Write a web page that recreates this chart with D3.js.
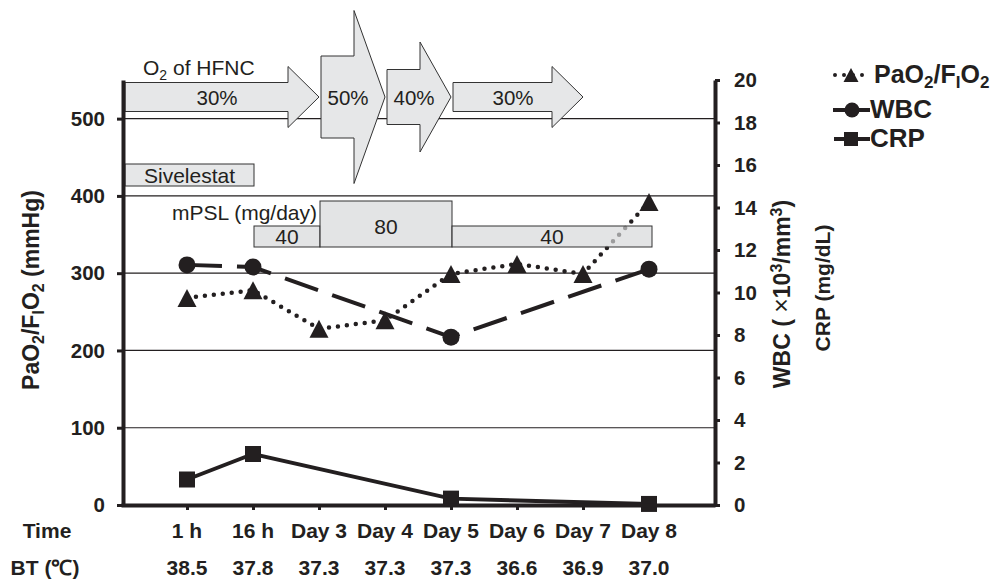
<!DOCTYPE html>
<html>
<head>
<meta charset="utf-8">
<script src="https://cdn.jsdelivr.net/npm/d3@7"></script>
<style>
  body { margin: 0; background: #fff; }
  svg { font-family: "Liberation Sans", Arial, sans-serif; }
</style>
</head>
<body>
<svg id="chart" width="996" height="581"></svg>
<script>
// data
var times = ["1 h", "16 h", "Day 3", "Day 4", "Day 5", "Day 6", "Day 7", "Day 8"];
var bodyTemp = ["38.5", "37.8", "37.3", "37.3", "37.3", "36.6", "36.9", "37.0"];
var pfRatio = [268, 278, 228, 239, 299, 312, 299, 392];
var labTimes = ["1 h", "16 h", "Day 5", "Day 8"];
var wbc = [11.3, 11.2, 7.9, 11.1];
var crp = [1.2, 2.4, 0.3, 0.05];
var leftTicks = [0, 100, 200, 300, 400, 500];
var rightTicks = [0, 2, 4, 6, 8, 10, 12, 14, 16, 18, 20];
var hfncLabels = ["30%", "50%", "40%", "30%"];
var hfncFrom = [null, "Day 3", "Day 4", "Day 5"];
var hfncTo = ["Day 3", "Day 4", "Day 5", "Day 7"];
var mpslDose = ["40", "80", "40"];
var mpslFrom = ["16 h", "Day 3", "Day 5"];
var mpslTo = ["Day 3", "Day 5", "Day 8"];
var sivelestatTo = "16 h";

var svg = d3.select("#chart");
var ink = "#231f20";
var boxFill = "#e6e7e8";

var x = d3.scalePoint().domain(times).range([121, 715]).padding(1);
var yL = d3.scaleLinear().domain([0, 550]).range([505, 80]);
var yR = d3.scaleLinear().domain([0, 20]).range([505, 80]);
var axL = 123, axR = 715;

// grid lines
svg.append("g").selectAll("line")
    .data(leftTicks.slice(1))
    .enter().append("line")
    .attr("x1", axL).attr("x2", axR)
    .attr("y1", function(d) { return yL(d); })
    .attr("y2", function(d) { return yL(d); })
    .attr("stroke", ink).attr("stroke-width", 1.2);

// O2 of HFNC arrows
var bodyHalf = [14.5, 41, 27.5, 14.5], headHalf = [30.5, 86.5, 55, 30.5];
var cy = 97, headLen = 31;
var arrows = svg.append("g");
hfncLabels.forEach(function(lab, i) {
    var x0 = hfncFrom[i] ? x(hfncFrom[i]) + 2 : axL + 2;
    var x1 = x(hfncTo[i]);
    var b = bodyHalf[i], h = headHalf[i];
    var p = d3.path();
    p.moveTo(x0, cy - b); p.lineTo(x1 - headLen, cy - b); p.lineTo(x1 - headLen, cy - h);
    p.lineTo(x1, cy); p.lineTo(x1 - headLen, cy + h); p.lineTo(x1 - headLen, cy + b);
    p.lineTo(x0, cy + b); p.closePath();
    arrows.append("path").attr("d", p.toString())
        .attr("fill", boxFill).attr("stroke", "#333").attr("stroke-width", 1);
    arrows.append("text")
        .attr("x", (x0 + x1) / 2 - 5).attr("y", cy + 7.5)
        .attr("text-anchor", "middle").attr("font-size", 20.5).attr("fill", ink)
        .text(lab);
});
var o2 = svg.append("text").attr("x", 143).attr("y", 75).attr("font-size", 21).attr("fill", ink);
o2.append("tspan").text("O");
o2.append("tspan").attr("font-size", 14).attr("dy", 5).text("2");
o2.append("tspan").attr("dy", -5).text(" of HFNC");

// Sivelestat
svg.append("rect").attr("x", axL + 2).attr("y", 164)
    .attr("width", x(sivelestatTo) + 1 - axL - 2).attr("height", 22)
    .attr("fill", boxFill).attr("stroke", "#333").attr("stroke-width", 1);
svg.append("text").attr("x", (axL + 2 + x(sivelestatTo) + 1) / 2).attr("y", 183)
    .attr("text-anchor", "middle").attr("font-size", 21).attr("fill", ink).text("Sivelestat");

// series lines
var lineL = d3.line().x(function(d) { return x(d[0]); }).y(function(d) { return yL(d[1]); });
var lineR = d3.line().x(function(d) { return x(d[0]); }).y(function(d) { return yR(d[1]); });
var pfData = times.map(function(t, i) { return [t, pfRatio[i]]; });
var wbcData = labTimes.map(function(t, i) { return [t, wbc[i]]; });
var crpData = labTimes.map(function(t, i) { return [t, crp[i]]; });

svg.append("path").datum(crpData).attr("d", lineR)
    .attr("fill", "none").attr("stroke", ink).attr("stroke-width", 4);
svg.append("path").datum(wbcData).attr("d", lineR)
    .attr("fill", "none").attr("stroke", ink).attr("stroke-width", 4)
    .attr("stroke-dasharray", "35 15");
svg.append("path").datum(pfData).attr("d", lineL)
    .attr("fill", "none").attr("stroke", ink).attr("stroke-width", 4.5)
    .attr("stroke-linecap", "round").attr("stroke-dasharray", "0 9");

function tri(cx, cyy, w, hgt) {
    return "M" + cx + "," + (cyy - hgt / 2) + "L" + (cx + w / 2) + "," + (cyy + hgt / 2) +
        "L" + (cx - w / 2) + "," + (cyy + hgt / 2) + "Z";
}
svg.append("g").selectAll("path").data(pfData).enter().append("path")
    .attr("d", function(d) { return tri(x(d[0]), yL(d[1]), 19, 18); })
    .attr("fill", ink);
svg.append("g").selectAll("circle").data(wbcData).enter().append("circle")
    .attr("cx", function(d) { return x(d[0]); }).attr("cy", function(d) { return yR(d[1]); })
    .attr("r", 8.5).attr("fill", ink);
svg.append("g").selectAll("rect").data(crpData).enter().append("rect")
    .attr("x", function(d) { return x(d[0]) - 8; }).attr("y", function(d) { return yR(d[1]) - 8; })
    .attr("width", 16).attr("height", 16).attr("fill", ink);

// mPSL boxes (drawn over the lines, slightly see-through)
var mpslTop = [226, 201, 226];
var mg = svg.append("g");
mpslDose.forEach(function(dose, i) {
    var x0 = x(mpslFrom[i]) + 1;
    var x1 = x(mpslTo[i]) + (i === mpslDose.length - 1 ? 3 : 1);
    mg.append("rect").attr("x", x0).attr("y", mpslTop[i])
        .attr("width", x1 - x0).attr("height", 247 - mpslTop[i])
        .attr("fill", "#d6d7d8").attr("fill-opacity", 0.68)
        .attr("stroke", "#333").attr("stroke-width", 1);
    mg.append("text").attr("x", (x0 + x1) / 2)
        .attr("y", i === 1 ? 234 : 244)
        .attr("text-anchor", "middle").attr("font-size", 21).attr("fill", ink).text(dose);
});
svg.append("text").attr("x", 317).attr("y", 220).attr("text-anchor", "end")
    .attr("font-size", 21).attr("fill", ink).text("mPSL (mg/day)");

// axes
function styleAxis(g) {
    g.select(".domain").attr("stroke", ink).attr("stroke-width", 4);
    g.selectAll(".tick line").attr("stroke", ink).attr("stroke-width", 3);
    g.selectAll(".tick text").attr("fill", ink).attr("font-size", 20.5)
        .attr("font-weight", "bold").attr("font-family", "Liberation Sans, Arial, sans-serif");
}
svg.append("g").attr("transform", "translate(" + axL + ",0)")
    .call(d3.axisLeft(yL).tickValues(leftTicks).tickSize(6).tickSizeOuter(0).tickPadding(12))
    .call(styleAxis);
svg.append("g").attr("transform", "translate(" + axR + ",0)")
    .call(d3.axisRight(yR).tickValues(rightTicks).tickSize(5).tickSizeOuter(0).tickPadding(14))
    .call(styleAxis);
svg.append("g").attr("transform", "translate(0,505)")
    .call(d3.axisBottom(x).tickSize(5).tickSizeOuter(0).tickFormat(""))
    .call(styleAxis);

// time and body temperature rows
var rows = svg.append("g").attr("font-weight", "bold").attr("font-size", 21).attr("fill", ink);
rows.append("text").attr("x", 47).attr("y", 538).attr("text-anchor", "middle").text("Time");
rows.append("text").attr("x", 45).attr("y", 575).attr("text-anchor", "middle").text("BT (℃)");
rows.selectAll(".t").data(times).enter().append("text")
    .attr("x", function(d) { return x(d); }).attr("y", 538)
    .attr("text-anchor", "middle").text(function(d) { return d; });
rows.selectAll(".bt").data(bodyTemp).enter().append("text")
    .attr("x", function(d, i) { return x(times[i]); }).attr("y", 575)
    .attr("text-anchor", "middle").text(function(d) { return d; });

// axis titles
var lt = svg.append("text").attr("transform", "translate(39,290) rotate(-90)")
    .attr("text-anchor", "middle").attr("font-size", 23).attr("font-weight", "bold").attr("fill", ink);
lt.append("tspan").text("PaO");
lt.append("tspan").attr("font-size", 16).attr("dy", 5).text("2");
lt.append("tspan").attr("dy", -5).text("/F");
lt.append("tspan").attr("font-size", 16).attr("dy", 5).text("I");
lt.append("tspan").attr("dy", -5).text("O");
lt.append("tspan").attr("font-size", 16).attr("dy", 5).text("2");
lt.append("tspan").attr("dy", -5).text(" (mmHg)");

var rt = svg.append("text").attr("transform", "translate(790,294) rotate(-90)")
    .attr("text-anchor", "middle").attr("font-size", 23).attr("font-weight", "bold").attr("fill", ink);
rt.append("tspan").text("WBC ( ");
rt.append("tspan").attr("font-weight", "normal").attr("font-size", 25).text("×");
rt.append("tspan").text("10");
rt.append("tspan").attr("font-size", 16).attr("dy", -8).text("3");
rt.append("tspan").attr("dy", 8).text("/mm");
rt.append("tspan").attr("font-size", 16).attr("dy", -8).text("3");
rt.append("tspan").attr("dy", 8).text(")");
svg.append("text").attr("transform", "translate(830,288) rotate(-90)")
    .attr("text-anchor", "middle").attr("font-size", 21).attr("font-weight", "bold").attr("fill", ink)
    .text("CRP (mg/dL)");

// legend
var lg = svg.append("g").attr("fill", ink);
var ly = [75, 110, 139];
lg.append("line").attr("x1", 835).attr("x2", 868).attr("y1", ly[0]).attr("y2", ly[0])
    .attr("stroke", ink).attr("stroke-width", 4).attr("stroke-linecap", "round").attr("stroke-dasharray", "0 9");
lg.append("path").attr("d", tri(851, ly[0], 15, 14));
lg.append("line").attr("x1", 833).attr("x2", 870).attr("y1", ly[1]).attr("y2", ly[1])
    .attr("stroke", ink).attr("stroke-width", 4);
lg.append("circle").attr("cx", 852).attr("cy", ly[1]).attr("r", 7.5);
lg.append("line").attr("x1", 834).attr("x2", 870).attr("y1", ly[2]).attr("y2", ly[2])
    .attr("stroke", ink).attr("stroke-width", 4);
lg.append("rect").attr("x", 844).attr("y", ly[2] - 7).attr("width", 14).attr("height", 14);

var lt1 = lg.append("text").attr("x", 874).attr("y", 83).attr("font-size", 25).attr("font-weight", "bold");
lt1.append("tspan").text("PaO");
lt1.append("tspan").attr("font-size", 17).attr("dy", 5).text("2");
lt1.append("tspan").attr("dy", -5).text("/F");
lt1.append("tspan").attr("font-size", 17).attr("dy", 5).text("I");
lt1.append("tspan").attr("dy", -5).text("O");
lt1.append("tspan").attr("font-size", 17).attr("dy", 5).text("2");
lg.append("text").attr("x", 870).attr("y", 118).attr("font-size", 26).attr("font-weight", "bold").text("WBC");
lg.append("text").attr("x", 870).attr("y", 147).attr("font-size", 26).attr("font-weight", "bold").text("CRP");
</script>
</body>
</html>
